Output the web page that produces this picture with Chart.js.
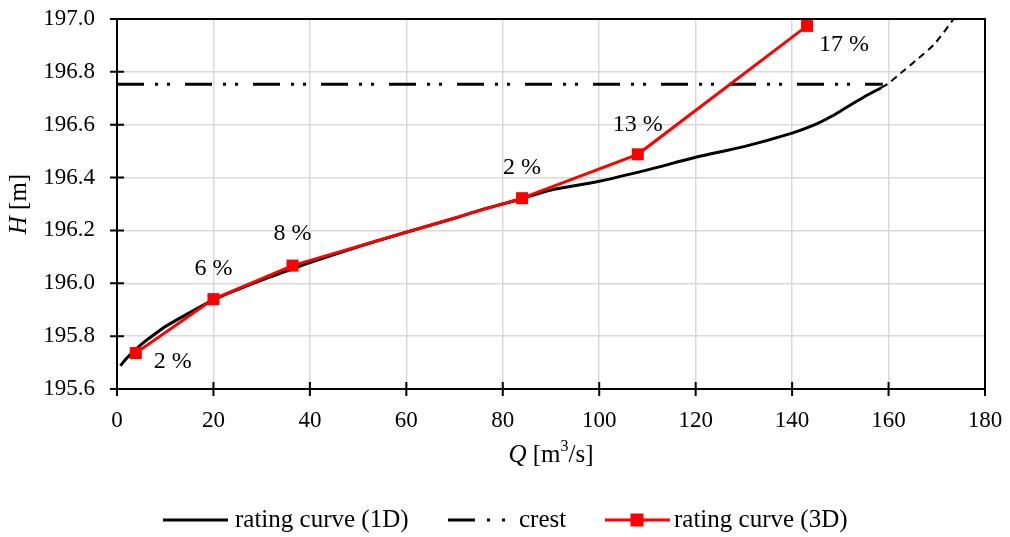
<!DOCTYPE html>
<html>
<head>
<meta charset="utf-8">
<script src="https://cdn.jsdelivr.net/npm/chart.js@4.4.0/dist/chart.umd.min.js"></script>
<style>
  html, body { margin: 0; padding: 0; background: #fff; }
  #wrap { width: 1010px; height: 537px; }
</style>
</head>
<body>
<div id="wrap"><canvas id="rc" width="1010" height="537"></canvas></div>
<script>
// rating curve (1D), solid part
const q1D = [0.7, 2, 4, 6, 8, 10, 15, 20, 25, 30, 35, 40, 50, 60, 70, 75.3, 80, 84, 90, 100, 110, 120, 130, 140, 144.6, 148, 151.5, 155, 158.5];
const h1D = [195.688, 195.716, 195.752, 195.783, 195.81, 195.836, 195.888, 195.937, 195.976, 196.012, 196.045, 196.078, 196.138, 196.193, 196.246, 196.277, 196.30, 196.32, 196.353, 196.386, 196.429, 196.477, 196.517, 196.568, 196.599, 196.630, 196.668, 196.706, 196.74];
// extrapolated part above the crest (dashed)
const qExt = [158.5, 160, 162.5, 166, 169.5, 173.5];
const hExt = [196.74, 196.757, 196.795, 196.848, 196.905, 197.0];
// rating curve (3D) and its deviation labels
const q3D = [3.9, 20.0, 36.4, 84.0, 108.0, 143.1];
const h3D = [195.736, 195.94, 196.067, 196.322, 196.488, 196.974];
const err3D = ['2 %', '6 %', '8 %', '2 %', '13 %', '17 %'];
// crest level
const crestQ = [0, 158.8];
const crestH = 196.753;
// tick labels
const xTicks = [0, 20, 40, 60, 80, 100, 120, 140, 160, 180];
const yTicks = [195.6, 195.8, 196.0, 196.2, 196.4, 196.6, 196.8, 197.0];

const SERIF = '"Liberation Serif", "Times New Roman", serif';
const errOffsets = [[37, 9], [0, -30], [0, -32], [0, -30], [0, -30], [37, 19]];

const pts = (xs, ys) => xs.map((x, i) => ({ x, y: Array.isArray(ys) ? ys[i] : ys }));

const decor = {
  id: 'decor',
  afterDraw(chart) {
    const { ctx, chartArea: a, scales: { x, y } } = chart;
    ctx.save();

    // frame
    ctx.strokeStyle = '#000';
    ctx.lineWidth = 2;
    ctx.strokeRect(a.left, a.top, a.right - a.left, a.bottom - a.top);

    // tick marks crossing the axes
    ctx.beginPath();
    xTicks.forEach(v => {
      const px = x.getPixelForValue(v);
      ctx.moveTo(px, a.bottom - 7);
      ctx.lineTo(px, a.bottom + 7);
    });
    yTicks.forEach(v => {
      const py = y.getPixelForValue(v);
      ctx.moveTo(a.left - 7, py);
      ctx.lineTo(a.left + 7, py);
    });
    ctx.stroke();

    // deviation labels next to the 3D points
    ctx.fillStyle = '#000';
    ctx.font = '24px ' + SERIF;
    ctx.textAlign = 'center';
    ctx.textBaseline = 'middle';
    err3D.forEach((t, i) => {
      const px = x.getPixelForValue(q3D[i]) + errOffsets[i][0];
      const py = y.getPixelForValue(h3D[i]) + errOffsets[i][1];
      ctx.fillText(t, px, py);
    });

    // x axis title: Q [m3/s]
    const parts = [
      { t: 'Q', f: 'italic 25px ' + SERIF, dy: 0 },
      { t: ' [m', f: '25px ' + SERIF, dy: 0 },
      { t: '3', f: '16px ' + SERIF, dy: -8 },
      { t: '/s]', f: '25px ' + SERIF, dy: 0 }
    ];
    let w = 0;
    parts.forEach(p => { ctx.font = p.f; p.w = ctx.measureText(p.t).width; w += p.w; });
    let cx = (a.left + a.right) / 2 - w / 2;
    ctx.textAlign = 'left';
    parts.forEach(p => { ctx.font = p.f; ctx.fillText(p.t, cx, 455 + p.dy); cx += p.w; });

    // y axis title: H [m]
    ctx.save();
    ctx.translate(19, (a.top + a.bottom) / 2);
    ctx.rotate(-Math.PI / 2);
    const yp = [
      { t: 'H', f: 'italic 25px ' + SERIF },
      { t: ' [m]', f: '25px ' + SERIF }
    ];
    w = 0;
    yp.forEach(p => { ctx.font = p.f; p.w = ctx.measureText(p.t).width; w += p.w; });
    cx = -w / 2;
    yp.forEach(p => { ctx.font = p.f; ctx.fillText(p.t, cx, 0); cx += p.w; });
    ctx.restore();

    // legend
    const ly = 520;
    ctx.font = '25px ' + SERIF;
    ctx.lineCap = 'butt';
    ctx.strokeStyle = '#000';
    ctx.lineWidth = 3;
    ctx.beginPath(); ctx.moveTo(163, ly); ctx.lineTo(228, ly); ctx.stroke();
    ctx.fillText('rating curve (1D)', 235, ly);

    ctx.beginPath(); ctx.moveTo(448, ly); ctx.lineTo(475, ly);
    ctx.moveTo(487, ly); ctx.lineTo(490, ly);
    ctx.moveTo(502, ly); ctx.lineTo(505, ly); ctx.stroke();
    ctx.fillText('crest', 519, ly);

    ctx.strokeStyle = '#ff0000';
    ctx.lineWidth = 3;
    ctx.beginPath(); ctx.moveTo(605, ly); ctx.lineTo(670, ly); ctx.stroke();
    ctx.fillStyle = '#ff0000';
    ctx.fillRect(637 - 6.5, ly - 6.5, 13, 13);
    ctx.fillStyle = '#000';
    ctx.fillText('rating curve (3D)', 674, ly);

    ctx.restore();
  }
};

new Chart(document.getElementById('rc'), {
  type: 'line',
  data: {
    datasets: [
      {
        label: 'rating curve (3D)',
        data: pts(q3D, h3D),
        borderColor: '#ff0000',
        backgroundColor: '#ff0000',
        borderWidth: 3,
        pointStyle: 'rect',
        pointRadius: 8.5,
        pointBorderWidth: 0,
        pointBackgroundColor: '#ff0000',
        tension: 0
      },
      {
        label: 'rating curve (1D)',
        data: pts(q1D, h1D),
        borderColor: '#000',
        borderWidth: 3,
        pointRadius: 0,
        tension: 0.3
      },
      {
        label: 'extrapolation',
        data: pts(qExt, hExt),
        borderColor: '#000',
        borderWidth: 2,
        borderDash: [7, 5],
        pointRadius: 0,
        tension: 0.3
      },
      {
        label: 'crest',
        data: pts(crestQ, crestH),
        borderColor: '#000',
        borderWidth: 3,
        borderDash: [27, 11, 3, 9, 3, 15],
        borderCapStyle: 'butt',
        pointRadius: 0
      }
    ]
  },
  options: {
    responsive: false,
    animation: false,
    devicePixelRatio: 1,
    layout: { padding: { top: 19, right: 25, left: 0, bottom: 0 } },
    plugins: {
      legend: { display: false },
      tooltip: { enabled: false }
    },
    scales: {
      x: {
        type: 'linear',
        min: 0,
        max: 180,
        afterBuildTicks: s => { s.ticks = xTicks.map(v => ({ value: v })); },
        afterFit: s => { s.height = 148; s.paddingLeft = 0; s.paddingRight = 0; },
        grid: { color: '#d9d9d9', lineWidth: 1.5, drawTicks: false },
        border: { color: '#000', width: 2 },
        ticks: {
          color: '#000',
          padding: 18,
          maxRotation: 0,
          autoSkip: false,
          font: { family: SERIF, size: 23 }
        }
      },
      y: {
        type: 'linear',
        min: 195.6,
        max: 197.0,
        afterBuildTicks: s => { s.ticks = yTicks.map(v => ({ value: v })); },
        afterFit: s => { s.width = 117; s.paddingTop = 0; s.paddingBottom = 0; },
        grid: { color: '#d9d9d9', lineWidth: 1.5, drawTicks: false },
        border: { color: '#000', width: 2 },
        ticks: {
          color: '#000',
          padding: 22,
          autoSkip: false,
          font: { family: SERIF, size: 23 },
          callback: v => Number(v).toFixed(1)
        }
      }
    }
  },
  plugins: [decor]
});
</script>
</body>
</html>
